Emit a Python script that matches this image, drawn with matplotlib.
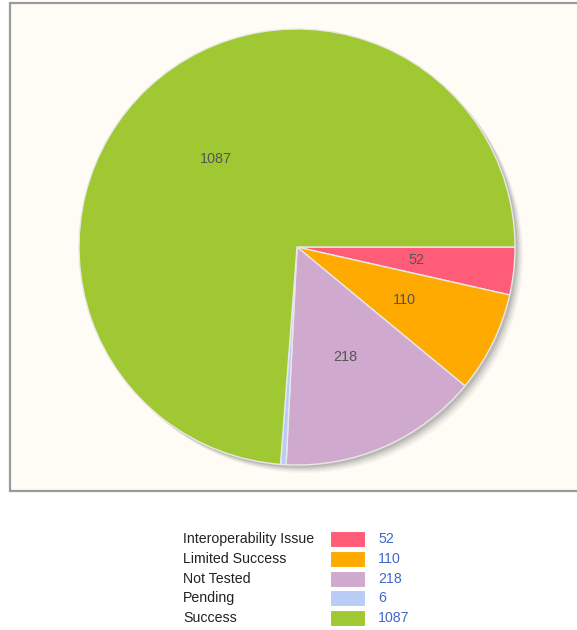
import matplotlib.pyplot as plt
from matplotlib.patches import Rectangle

# data
categories = ["Interoperability Issue", "Limited Success", "Not Tested", "Pending", "Success"]
values = [52, 110, 218, 6, 1087]
colors = ["#FF5C77", "#FFAA00", "#D0A9CE", "#B8CDF5", "#A0C832"]

W, H = 577, 630
fig = plt.figure(figsize=(W / 100, H / 100), dpi=100)
fig.patch.set_facecolor("white")

# panel background with grey frame, kept behind the pie
bg = fig.add_axes([0, 0, 1, 1], zorder=-5)
bg.set_xlim(0, W)
bg.set_ylim(H, 0)
bg.axis("off")
bg.add_patch(Rectangle((10, 3), 580, 488, facecolor="#FFFCF5",
                       edgecolor="#9A9A9A", linewidth=1.6))

# pie axes placed in pixel terms
cx, cy, r = 297, 247, 218
ax = fig.add_axes([(cx - r) / W, 1 - (cy + r) / H, 2 * r / W, 2 * r / H])
ax.axis("off")

# soft shadow: a few offset grey pies
for off, a in [(0.036, 0.08), (0.028, 0.12), (0.020, 0.18), (0.012, 0.25)]:
    ax.pie(values, radius=1, startangle=0, counterclock=False, center=(off, -off),
           colors=["#7A7A7A"] * len(values), wedgeprops=dict(alpha=a, linewidth=0))

wedges, texts = ax.pie(values, radius=1, startangle=0, counterclock=False, colors=colors,
                       labels=[str(v) if v > 20 else "" for v in values], labeldistance=0.55,
                       wedgeprops=dict(edgecolor="#E8E8E8", linewidth=1.0),
                       textprops=dict(color="#555555", fontsize=10.4, family="Liberation Sans"))
for t in texts:
    t.set_ha("center")
    t.set_va("center")
ax.set_xlim(-1, 1)
ax.set_ylim(-1, 1)

# legend as a small table below the panel
row0, step = 539, 19.8
for i, (c, v, col) in enumerate(zip(categories, values, colors)):
    y = row0 + i * step
    bg.text(183, y, c, fontsize=10.2, family="Liberation Sans",
            color="#222222", va="center", ha="left")
    bg.add_patch(Rectangle((330, y - 8), 35, 16, facecolor=col,
                           edgecolor="white", linewidth=0.8))
    bg.text(378, y, str(v), fontsize=10.2, family="Liberation Sans",
            color="#3F66CC", va="center", ha="left")

fig.savefig("out.png", dpi=100)
